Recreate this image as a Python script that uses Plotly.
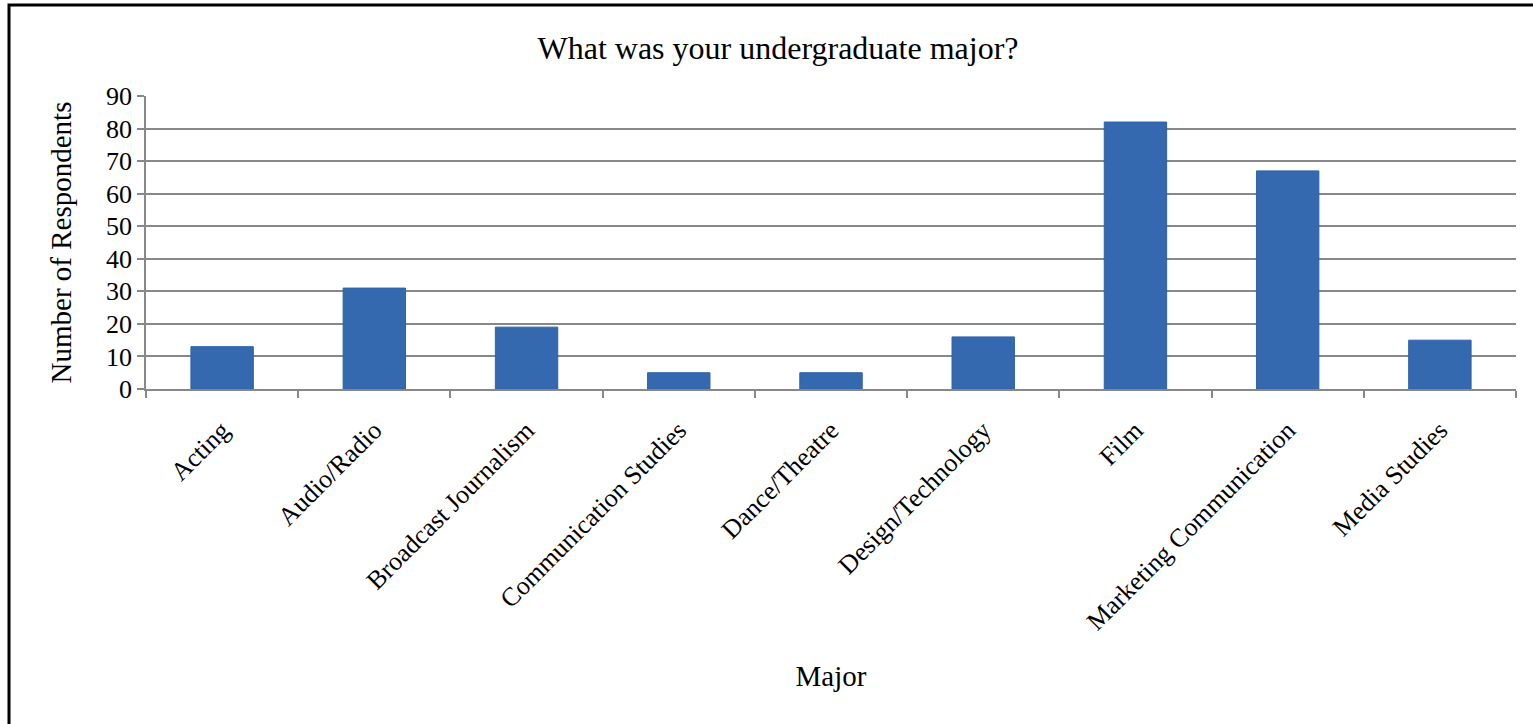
import plotly.graph_objects as go

categories = ["Acting", "Audio/Radio", "Broadcast Journalism", "Communication Studies",
              "Dance/Theatre", "Design/Technology", "Film", "Marketing Communication",
              "Media Studies"]
respondents = [13, 31, 19, 5, 5, 16, 82, 67, 15]
y_ticks = [0, 10, 20, 30, 40, 50, 60, 70, 80, 90]

W, H = 1533, 724
ML, MR, MT, MB = 146, 17, 96, 335
PW, PH = W - ML - MR, H - MT - MB

FONT = "Liberation Serif, Times New Roman, serif"

fig = go.Figure(go.Bar(
    x=categories, y=respondents,
    marker=dict(color="#3469b0", line=dict(color="#2f62a6", width=1)),
    width=0.41,
))

def px_x(p):
    return (p - ML) / PW

def px_y(p):
    return 1 - (p - MT) / PH

fig.update_layout(
    width=W, height=H,
    margin=dict(l=ML, r=MR, t=MT, b=MB, autoexpand=False),
    paper_bgcolor="white", plot_bgcolor="white",
    font=dict(family=FONT, size=26, color="black"),
    showlegend=False,
    title=dict(text="What was your undergraduate major?", x=778 / W, xanchor="center",
               y=1 - 48 / H, yanchor="middle", font=dict(family=FONT, size=32, color="black")),
    xaxis=dict(
        tickangle=-45, tickson="boundaries", ticks="outside", ticklen=7,
        tickcolor="#888888", tickwidth=1.5,
        showline=True, linecolor="#888888", linewidth=1.5,
        showgrid=False, ticklabelstandoff=14,
        title=dict(text="Major", standoff=31, font=dict(family=FONT, size=29)),
        tickfont=dict(family=FONT, size=26),
    ),
    yaxis=dict(
        range=[0, 90], tickvals=y_ticks, ticks="outside", ticklen=7,
        tickcolor="#888888", tickwidth=1.5,
        showline=True, linecolor="#888888", linewidth=1.5,
        showgrid=True, gridcolor="#888888", gridwidth=1.5,
        zeroline=False,
        title=dict(text="Number of Respondents", standoff=26, font=dict(family=FONT, size=29)),
        tickfont=dict(family=FONT, size=26),
    ),
    shapes=[dict(type="rect", xref="paper", yref="paper",
                 x0=px_x(9), x1=px_x(W + 20), y0=px_y(H + 20), y1=px_y(5),
                 line=dict(color="black", width=3), fillcolor="rgba(0,0,0,0)", layer="below")],
)

fig.write_html("out.html", config={"displayModeBar": False},
               post_script="document.body.style.margin='0';document.body.style.overflow='hidden';")
